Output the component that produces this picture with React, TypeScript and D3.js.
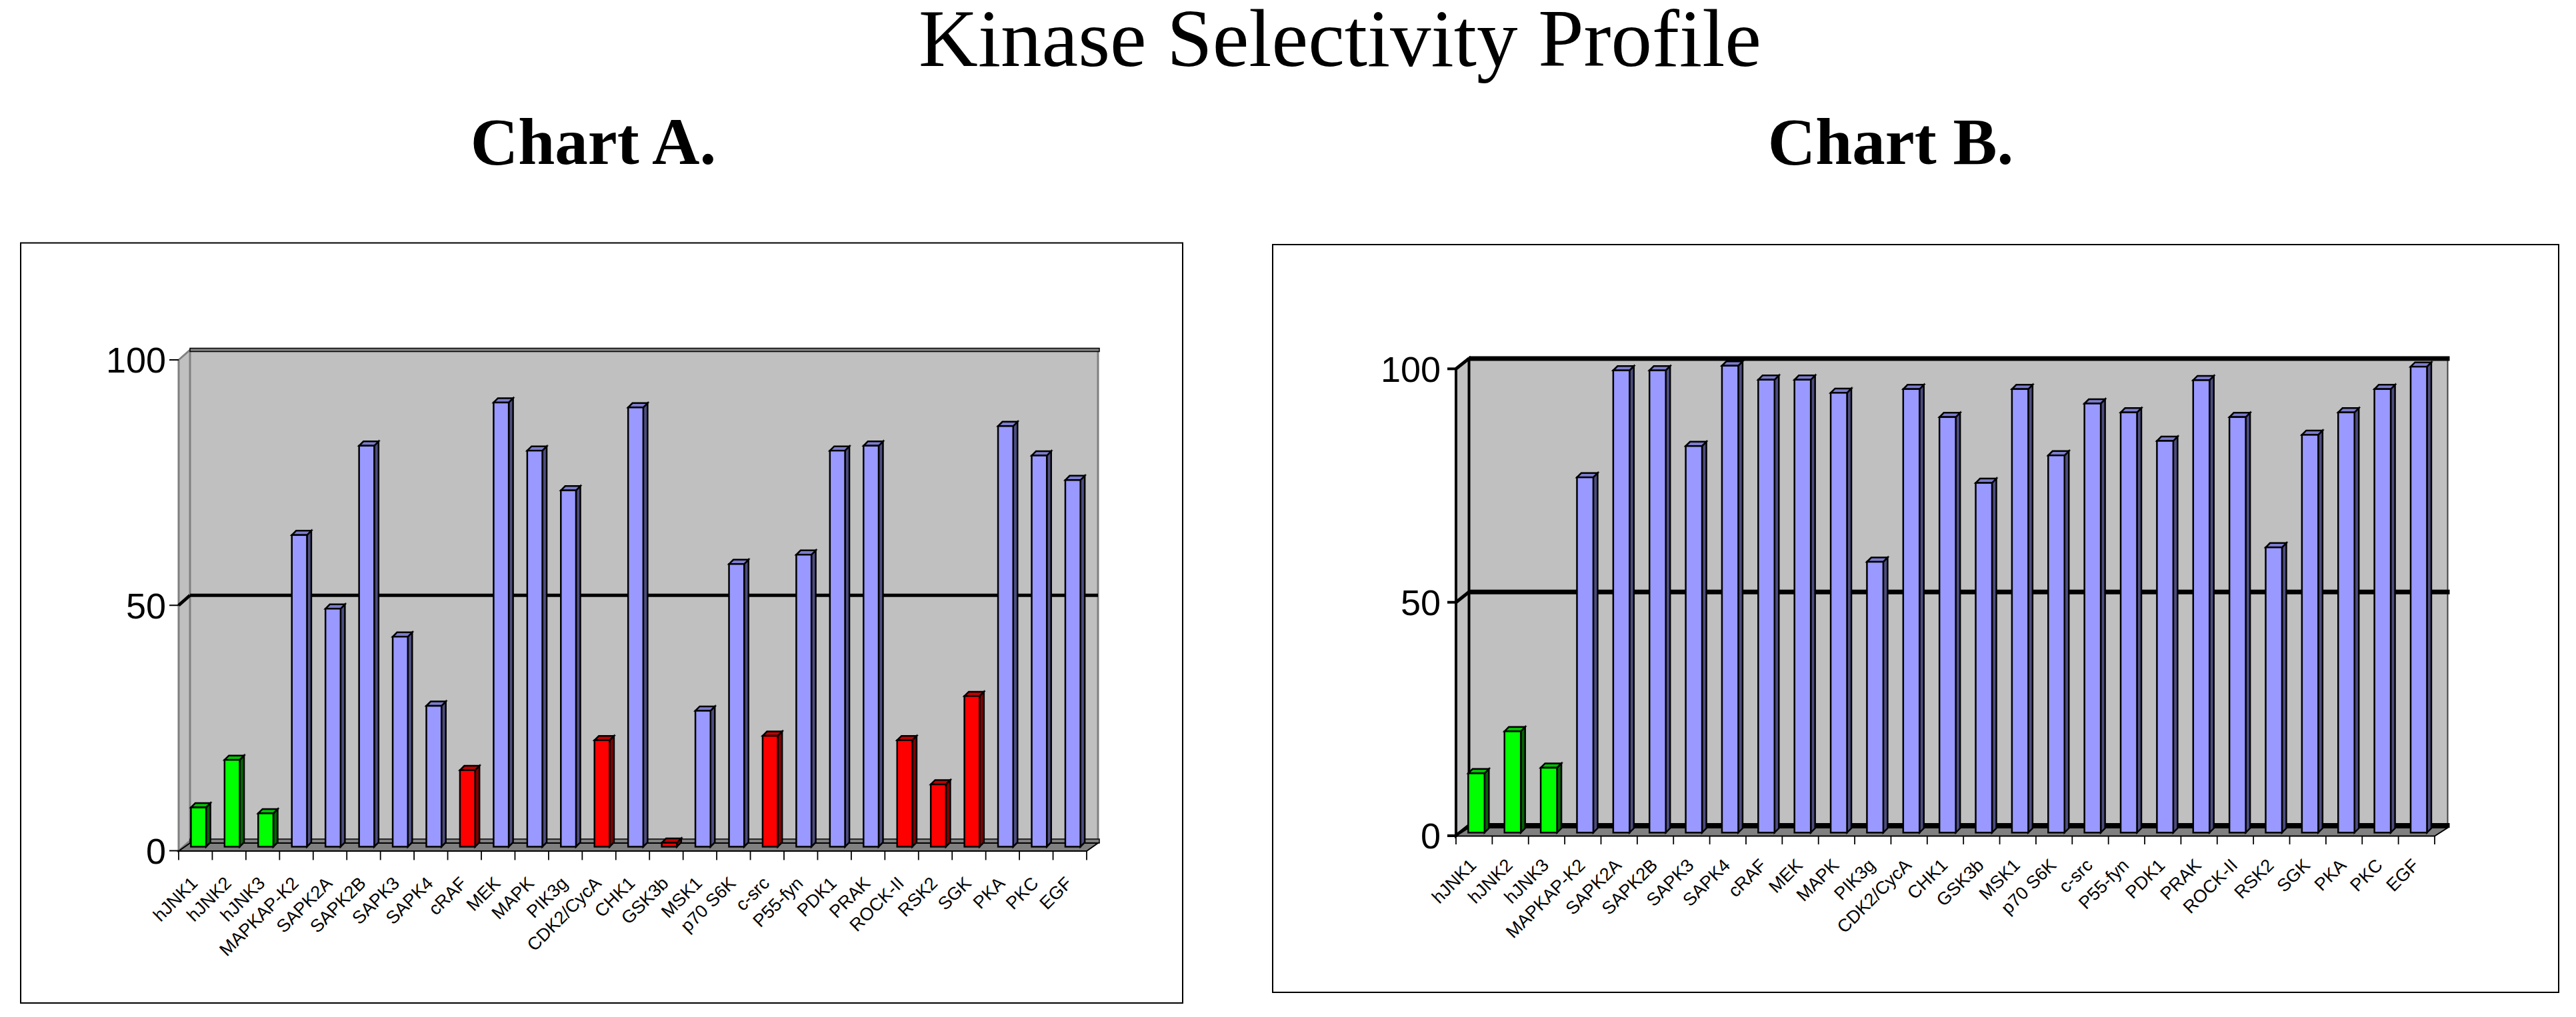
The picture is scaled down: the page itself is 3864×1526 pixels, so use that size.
import React from "react";
import * as d3 from "d3";

const categories = [
  "hJNK1", "hJNK2", "hJNK3", "MAPKAP-K2", "SAPK2A", "SAPK2B", "SAPK3", "SAPK4",
  "cRAF", "MEK", "MAPK", "PIK3g", "CDK2/CycA", "CHK1", "GSK3b", "MSK1",
  "p70 S6K", "c-src", "P55-fyn", "PDK1", "PRAK", "ROCK-II", "RSK2", "SGK",
  "PKA", "PKC", "EGF",
];

const chartAValues = [
  8, 17.7, 6.8, 63.5, 48.5, 81.7, 42.8, 28.7, 15.6, 90.5, 80.7, 72.6, 21.7, 89.5,
  0.8, 27.7, 57.6, 22.6, 59.5, 80.7, 81.7, 21.7, 12.7, 30.7, 85.7, 79.7, 74.7,
];
const chartAGroups = [
  "g", "g", "g", "b", "b", "b", "b", "b", "r", "b", "b", "b", "r", "b",
  "r", "b", "b", "r", "b", "b", "b", "r", "r", "r", "b", "b", "b",
];

const chartBValues = [
  12.7, 21.7, 13.9, 76.1, 99, 99, 82.8, 100, 97, 97, 94.2, 58, 95, 89,
  74.9, 95, 80.8, 91.9, 90, 83.9, 96.9, 89, 61.1, 85.2, 90, 95, 99.8,
];
const chartBGroups = [
  "g", "g", "g", "b", "b", "b", "b", "b", "b", "b", "b", "b", "b", "b",
  "b", "b", "b", "b", "b", "b", "b", "b", "b", "b", "b", "b", "b",
];

const yTicks = [0, 50, 100];

const mainTitle = "Kinase Selectivity Profile";
const chartTitles = ["Chart A.", "Chart B."];

const palette: Record<string, { front: string; side: string; top: string }> = {
  b: { front: "#9999FF", side: "#4D4D80", top: "#7C7CCF" },
  g: { front: "#00FF00", side: "#006600", top: "#00C000" },
  r: { front: "#FF0000", side: "#800000", top: "#C00000" },
};

type Layout = {
  frame: [number, number, number, number];
  x0: number;
  x1: number;
  y0: number;
  y100: number;
  ddx: number;
  ddy: number;
  f: number;
  style: "A" | "B";
  labelRight: number;
  catLabelY: number;
  tickLen: number;
  titleX: number;
};

const layouts: Layout[] = [
  {
    frame: [31, 364.5, 1774, 1505],
    x0: 268, x1: 1630, y0: 1276.5, y100: 540, ddx: 17, ddy: -15, f: 0.4,
    style: "A", labelRight: 249, catLabelY: 1327, tickLen: 14, titleX: 890,
  },
  {
    frame: [1909, 367, 3838, 1489],
    x0: 2184, x1: 3652, y0: 1254, y100: 553.4, ddx: 19.5, ddy: -15.5, f: 0.3,
    style: "B", labelRight: 2161, catLabelY: 1300, tickLen: 13, titleX: 2836,
  },
];

const SANS = "'Liberation Sans', Arial, Helvetica, sans-serif";
const SERIF = "'Liberation Serif', 'Times New Roman', Times, serif";

function Chart({ L, values, groups, title }: { L: Layout; values: number[]; groups: string[]; title: string }) {
  const x = d3.scaleBand<string>().domain(categories).range([L.x0, L.x1]).padding(0);
  const bw = x.bandwidth();
  const yFront = d3.scaleLinear().domain([0, 100]).range([L.y0, L.y100]);
  const yBack = d3.scaleLinear().domain([0, 100]).range([L.y0 + L.ddy, L.y100 + L.ddy]);
  const yBar = d3.scaleLinear().domain([0, 100]).range([L.y0 + L.f * L.ddy, L.y100 + L.f * L.ddy]);

  const bL = L.x0 + L.ddx;
  const bR = L.x1 + L.ddx;
  const b0 = yBack(0);
  const b100 = yBack(100);
  const isB = L.style === "B";
  const edge = isB ? "#000" : "#808080";

  const [fx0, fy0, fx1, fy1] = L.frame;
  const d = 6.5;
  const barW = 0.45 * bw;

  return (
    <g>
      <rect x={fx0} y={fy0} width={fx1 - fx0} height={fy1 - fy0} fill="#fff" stroke="#000" strokeWidth={2} />
      <text x={L.titleX} y={246} textAnchor="middle" fontFamily={SERIF} fontWeight="bold" fontSize={99}>
        {title}
      </text>

      {/* back wall */}
      <rect x={bL} y={b100} width={bR - bL} height={b0 - b100} fill="#C0C0C0" />
      <line x1={bR} y1={b100} x2={bR} y2={b0} stroke={isB ? "#404040" : "#808080"} strokeWidth={isB ? 2 : 3} />
      {/* side wall */}
      <polygon
        points={`${L.x0},${yFront(100)} ${bL},${b100} ${bL},${b0} ${L.x0},${yFront(0)}`}
        fill="#C0C0C0"
        stroke={edge}
        strokeWidth={isB ? 4 : 3}
      />

      {/* gridlines */}
      {yTicks.map((t) => {
        const yb = yBack(t);
        const yf = yFront(t);
        if (isB) {
          return (
            <g key={t}>
              <line x1={bL} y1={yb} x2={bR + 3} y2={yb} stroke="#000" strokeWidth={7} />
              <line x1={L.x0} y1={yf} x2={bL} y2={yb} stroke="#000" strokeWidth={5} />
            </g>
          );
        }
        if (t === 50) {
          return (
            <g key={t}>
              <line x1={bL} y1={yb} x2={bR} y2={yb} stroke="#000" strokeWidth={5} />
              <line x1={L.x0} y1={yf} x2={bL} y2={yb} stroke="#000" strokeWidth={5} />
            </g>
          );
        }
        return (
          <g key={t}>
            <rect x={bL} y={yb - 2.5} width={bR - bL + 2} height={t === 0 ? 6 : 5} fill="#808080" stroke="#000" strokeWidth={1.5} />
          </g>
        );
      })}

      {/* floor */}
      <polygon
        points={`${L.x0},${L.y0 + 0.5} ${L.x1},${L.y0 + 0.5} ${bR},${b0 + 3.5} ${bL},${b0 + 3.5}`}
        fill="#808080"
        stroke="#000"
        strokeWidth={2}
      />

      {/* y axis ticks and labels */}
      {yTicks.map((t) => (
        <g key={"yt" + t}>
          <line x1={L.x0 - L.tickLen} y1={yFront(t)} x2={L.x0} y2={yFront(t)} stroke="#000" strokeWidth={isB ? 4 : 2} />
          <text
            x={L.labelRight}
            y={yFront(t)}
            dy="0.36em"
            textAnchor="end"
            fontFamily={SANS}
            fontSize={54}
          >
            {t}
          </text>
        </g>
      ))}

      {/* x axis ticks */}
      {d3.range(categories.length + 1).map((i) => {
        const xx = L.x0 + i * bw;
        return <line key={"xt" + i} x1={xx} y1={L.y0} x2={xx} y2={L.y0 + L.tickLen} stroke="#000" strokeWidth={1.8} />;
      })}

      {/* bars */}
      {categories.map((c, i) => {
        const col = palette[groups[i]];
        const xl = (x(c) as number) + L.f * L.ddx + 0.23 * bw;
        const yt = yBar(values[i]);
        const yb = yBar(0);
        const xr = xl + barW;
        return (
          <g key={c} stroke="#000" strokeWidth={2.5} strokeLinejoin="miter">
            <polygon points={`${xr},${yt} ${xr + d},${yt - d} ${xr + d},${yb - d} ${xr},${yb}`} fill={col.side} />
            <polygon points={`${xl},${yt} ${xl + d},${yt - d} ${xr + d},${yt - d} ${xr},${yt}`} fill={col.top} />
            <rect x={xl} y={yt} width={barW} height={yb - yt} fill={col.front} />
          </g>
        );
      })}

      {/* category labels */}
      {categories.map((c) => {
        const cx = (x(c) as number) + bw / 2 + 5;
        return (
          <text
            key={"lab" + c}
            transform={`translate(${cx},${L.catLabelY}) rotate(-45)`}
            textAnchor="end"
            fontFamily={SANS}
            fontSize={27}
          >
            {c}
          </text>
        );
      })}
    </g>
  );
}

export default function App() {
  return (
    <svg
      width={3864}
      height={1526}
      viewBox="0 0 3864 1526"
      style={{ position: "absolute", left: 0, top: 0, background: "#fff" }}
    >
      <rect x={0} y={0} width={3864} height={1526} fill="#fff" />
      <text x={2010} y={99} textAnchor="middle" fontFamily={SERIF} fontSize={123}>
        {mainTitle}
      </text>
      <Chart L={layouts[0]} values={chartAValues} groups={chartAGroups} title={chartTitles[0]} />
      <Chart L={layouts[1]} values={chartBValues} groups={chartBGroups} title={chartTitles[1]} />
    </svg>
  );
}
